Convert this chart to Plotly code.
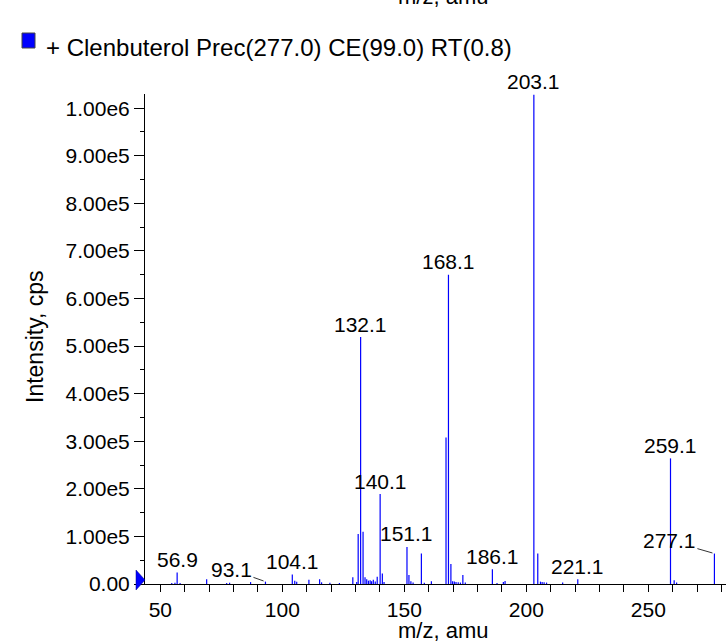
import plotly.graph_objects as go

# ---------------- data ----------------
mz = [54.7, 56.0, 56.9, 58.1, 69.0, 77.2, 78.4, 87.0, 93.1, 104.1, 105.1, 105.9,
      110.9, 115.3, 116.1, 119.5, 123.4, 128.9, 130.5, 131.1, 132.1, 133.1, 133.9,
      134.6, 135.3, 136.0, 136.6, 137.3, 138.1, 138.9, 140.1, 141.0, 141.7, 151.1,
      151.9, 152.7, 153.6, 157.0, 158.2, 161.1, 167.1, 168.1, 169.1, 169.8, 170.5,
      171.2, 172.1, 173.0, 174.0, 175.0, 186.1, 188.0, 190.6, 191.3, 203.1, 204.7,
      205.8, 206.5, 207.3, 208.3, 214.9, 221.1, 259.1, 260.6, 261.6, 277.1]
intensity = [2000, 2500, 24000, 2000, 10000, 2000, 2500, 4000, 5000, 20000, 7000, 4500,
             9000, 10000, 3500, 2500, 2000, 14000, 4000, 105000, 519000, 110000, 14000,
             10000, 7000, 8000, 6000, 9000, 5000, 15000, 189000, 22000, 4000, 78000,
             19000, 6000, 3000, 64000, 2500, 6000, 308000, 650000, 42000, 6000, 5000,
             4000, 3500, 3000, 19000, 3000, 31000, 2000, 4000, 6500, 1028000, 64000,
             5000, 4000, 3500, 3000, 3000, 10000, 264000, 8000, 3000, 64000]

peak_labels = ["56.9", "93.1", "104.1", "132.1", "140.1", "151.1", "168.1",
               "186.1", "203.1", "221.1", "259.1", "277.1"]

x_tick_vals = [50, 100, 150, 200, 250]
y_tick_vals = [0, 1e5, 2e5, 3e5, 4e5, 5e5, 6e5, 7e5, 8e5, 9e5, 1e6]
y_tick_text = ["0.00", "1.00e5", "2.00e5", "3.00e5", "4.00e5", "5.00e5",
               "6.00e5", "7.00e5", "8.00e5", "9.00e5", "1.00e6"]

legend_text = "+ Clenbuterol Prec(277.0) CE(99.0) RT(0.8)"
x_title = "m/z, amu"
y_title = "Intensity, cps"

# ---------------- layout geometry ----------------
W, H = 726, 642
ML, MR, MT, MB = 145, 0, 94, 58
PW, PH = W - ML - MR, H - MT - MB
FONT = "Liberation Sans, Arial, Helvetica, sans-serif"
BLUE = "#0000FF"


def px(xp):
    return (xp - ML) / PW


def py(yp):
    return (H - MB - yp) / PH


# stick spectrum built from the data arrays
xs, ys = [], []
for m, v in zip(mz, intensity):
    xs += [m, m, None]
    ys += [0, v, None]

fig = go.Figure()
fig.add_trace(go.Scatter(x=xs, y=ys, mode="lines",
                         line=dict(color=BLUE, width=1.2),
                         hoverinfo="skip", showlegend=False))

# peak labels
arrow_offsets = {"93.1": (-34, -12), "277.1": (-45, -13)}
lookup = dict(zip([f"{m:.1f}" for m in mz], intensity))
annotations = []
for lab in peak_labels:
    xv = float(lab)
    yv = lookup[lab]
    if lab in arrow_offsets:
        ax, ay = arrow_offsets[lab]
        annotations.append(dict(x=xv, y=yv, xref="x", yref="y", text=lab,
                                showarrow=True, arrowhead=0, arrowwidth=1,
                                arrowcolor="#333333", ax=ax, ay=ay, standoff=2,
                                font=dict(family=FONT, size=21, color="black")))
    else:
        annotations.append(dict(x=xv, y=yv, xref="x", yref="y", text=lab,
                                showarrow=False, yanchor="middle", yshift=13,
                                font=dict(family=FONT, size=21, color="black")))

# axis titles
annotations.append(dict(x=px(442.5), y=py(630), xref="paper", yref="paper",
                        text=x_title, showarrow=False, xanchor="center",
                        yanchor="middle",
                        font=dict(family=FONT, size=22, color="black")))
# clipped title of the panel above
annotations.append(dict(x=px(442.5), y=py(-4), xref="paper", yref="paper",
                        text=x_title, showarrow=False, xanchor="center",
                        yanchor="middle",
                        font=dict(family=FONT, size=22, color="black")))
annotations.append(dict(x=px(35), y=py(337), xref="paper", yref="paper",
                        text=y_title, showarrow=False, textangle=-90,
                        xanchor="center", yanchor="middle",
                        font=dict(family=FONT, size=23, color="black")))
# legend text
annotations.append(dict(x=px(44), y=py(48), xref="paper", yref="paper",
                        text=legend_text, showarrow=False, xanchor="left",
                        yanchor="middle",
                        font=dict(family=FONT, size=24, color="black")))

shapes = [
    # legend swatch
    dict(type="rect", xref="paper", yref="paper",
         x0=px(22), x1=px(35), y0=py(48), y1=py(33),
         fillcolor=BLUE, line=dict(color="#444444", width=1)),
    # blue marker on the y axis at zero
    dict(type="path", xref="paper", yref="paper", xsizemode="pixel",
         ysizemode="pixel", xanchor=0, yanchor=0,
         path="M -9 14 L 0 4 L -9 -6 Z", fillcolor=BLUE,
         line=dict(color="#000080", width=0.5)),
]

fig.update_layout(
    width=W, height=H,
    margin=dict(l=ML, r=MR, t=MT, b=MB, pad=0),
    plot_bgcolor="white", paper_bgcolor="white",
    font=dict(family=FONT, size=21, color="black"),
    annotations=annotations, shapes=shapes, showlegend=False,
    xaxis=dict(range=[50 + (ML - 160.3) / 2.44, 50 + (W - MR - 160.3) / 2.44],
               tickvals=x_tick_vals, ticks="outside", ticklen=7,
               tickcolor="black", showline=True, linecolor="black",
               linewidth=1, showgrid=False, zeroline=False,
               tickfont=dict(family=FONT, size=21, color="black"),
               minor=dict(dtick=10, tick0=0, ticks="outside", ticklen=7,
                          tickcolor="black", showgrid=False)),
    yaxis=dict(range=[0, 1.0298e6], tickvals=y_tick_vals, ticktext=y_tick_text,
               ticks="outside", ticklen=10, tickcolor="black", showline=True,
               linecolor="black", linewidth=1, showgrid=False, zeroline=False,
               tickfont=dict(family=FONT, size=21, color="black"),
               minor=dict(dtick=5e4, tick0=0, ticks="outside", ticklen=4,
                          tickcolor="black", showgrid=False)),
)

fig.write_html("out.html",
               config={"displayModeBar": False},
               post_script="document.body.style.margin='0';"
                           "document.body.style.overflow='hidden';")
